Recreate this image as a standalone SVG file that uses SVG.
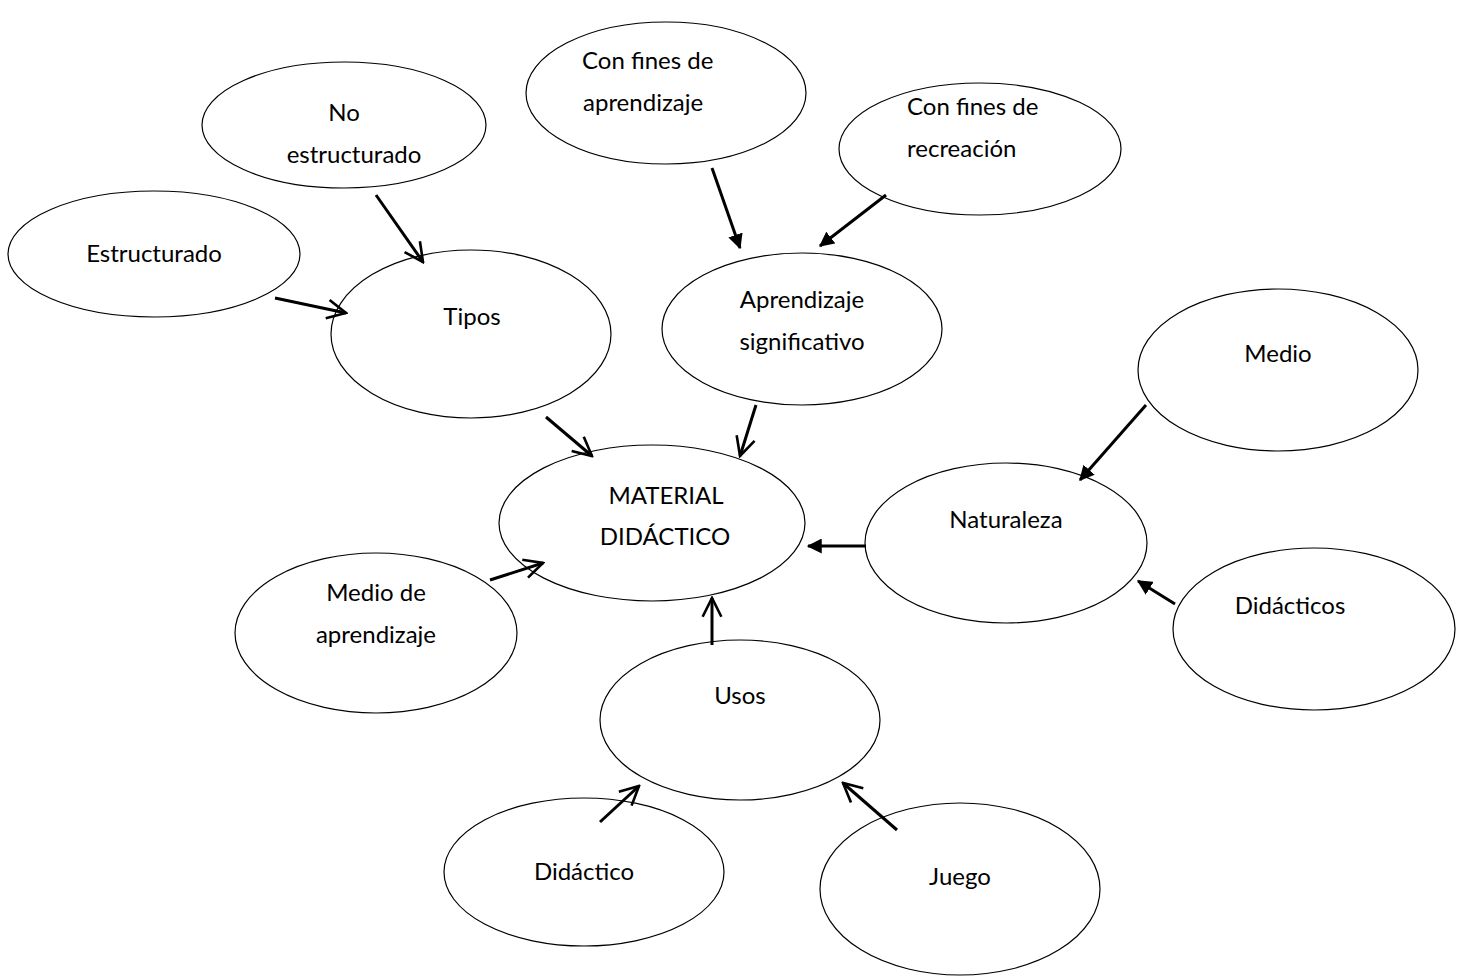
<svg xmlns="http://www.w3.org/2000/svg" width="1466" height="977" viewBox="0 0 1466 977">
<style>
ellipse{fill:#fff;stroke:#000;stroke-width:1.2}
text{font-family:Lato,"Liberation Sans",Arial,sans-serif;font-size:24px;fill:#000;text-anchor:middle}
.l{text-anchor:start}
.c line{stroke:#000;stroke-width:3}
</style>
<defs>
<marker id="o" viewBox="0 0 12 12" refX="11" refY="6" markerWidth="7.5" markerHeight="7.5" markerUnits="strokeWidth" orient="auto"><path d="M1,1 L11,6 L1,11" fill="none" stroke="#000" stroke-width="1.4"/></marker>
<marker id="f" viewBox="0 0 12 12" refX="11" refY="6" markerWidth="5" markerHeight="5" markerUnits="strokeWidth" orient="auto"><path d="M0,0 L12,6 L0,12 z" fill="#000"/></marker>
</defs>
<rect width="1466" height="977" fill="#fff"/>
<g id="n-noestructurado"><ellipse cx="344" cy="125" rx="142" ry="63"/><text x="344" y="121">No</text><text x="354" y="163">estructurado</text></g>
<g id="n-estructurado"><ellipse cx="154" cy="254" rx="146" ry="63"/><text x="154" y="262">Estructurado</text></g>
<g id="n-tipos"><ellipse cx="471" cy="334" rx="140" ry="84"/><text x="472" y="325">Tipos</text></g>
<g id="n-finesaprendizaje"><ellipse cx="666" cy="93" rx="140" ry="71"/><text class="l" x="582" y="69">Con fines de</text><text class="l" x="583" y="111">aprendizaje</text></g>
<g id="n-finesrecreacion"><ellipse cx="980" cy="149" rx="141" ry="66"/><text class="l" x="907" y="115">Con fines de</text><text class="l" x="907" y="157">recreación</text></g>
<g id="n-aprendizaje"><ellipse cx="802" cy="329" rx="140" ry="76"/><text x="802" y="308">Aprendizaje</text><text x="802" y="350">significativo</text></g>
<g id="n-medio"><ellipse cx="1278" cy="370" rx="140" ry="81"/><text x="1278" y="362">Medio</text></g>
<g id="n-material"><ellipse cx="652" cy="523" rx="153" ry="78"/><text x="666" y="504">MATERIAL</text><text x="665" y="545">DIDÁCTICO</text></g>
<g id="n-naturaleza"><ellipse cx="1006" cy="543" rx="141" ry="80"/><text x="1006" y="528">Naturaleza</text></g>
<g id="n-didacticos"><ellipse cx="1314" cy="629" rx="141" ry="81"/><text x="1290" y="614">Didácticos</text></g>
<g id="n-medioaprendizaje"><ellipse cx="376" cy="633" rx="141" ry="80"/><text x="376" y="601">Medio de</text><text x="376" y="643">aprendizaje</text></g>
<g id="n-usos"><ellipse cx="740" cy="720" rx="140" ry="80"/><text x="740" y="704">Usos</text></g>
<g id="n-didactico"><ellipse cx="584" cy="872" rx="140" ry="74"/><text x="584" y="880">Didáctico</text></g>
<g id="n-juego"><ellipse cx="960" cy="889" rx="140" ry="86"/><text x="960" y="885">Juego</text></g>
<g id="connectors" class="c">
<line x1="376" y1="195" x2="423" y2="262" marker-end="url(#o)"/>
<line x1="275" y1="298" x2="346" y2="313" marker-end="url(#o)"/>
<line x1="546" y1="417" x2="592" y2="456" marker-end="url(#o)"/>
<line x1="756" y1="405" x2="740" y2="456" marker-end="url(#o)"/>
<line x1="712" y1="168" x2="740" y2="248" marker-end="url(#f)"/>
<line x1="886" y1="195" x2="820" y2="246" marker-end="url(#f)"/>
<line x1="1146" y1="405" x2="1080" y2="480" marker-end="url(#f)"/>
<line x1="866" y1="546" x2="808" y2="546" marker-end="url(#f)"/>
<line x1="1175" y1="604" x2="1138" y2="581" marker-end="url(#f)"/>
<line x1="490" y1="580" x2="543" y2="563" marker-end="url(#o)"/>
<line x1="712" y1="645" x2="712" y2="598" marker-end="url(#o)"/>
<line x1="600" y1="822" x2="639" y2="786" marker-end="url(#o)"/>
<line x1="897" y1="830" x2="843" y2="783" marker-end="url(#o)"/>
</g>
</svg>
